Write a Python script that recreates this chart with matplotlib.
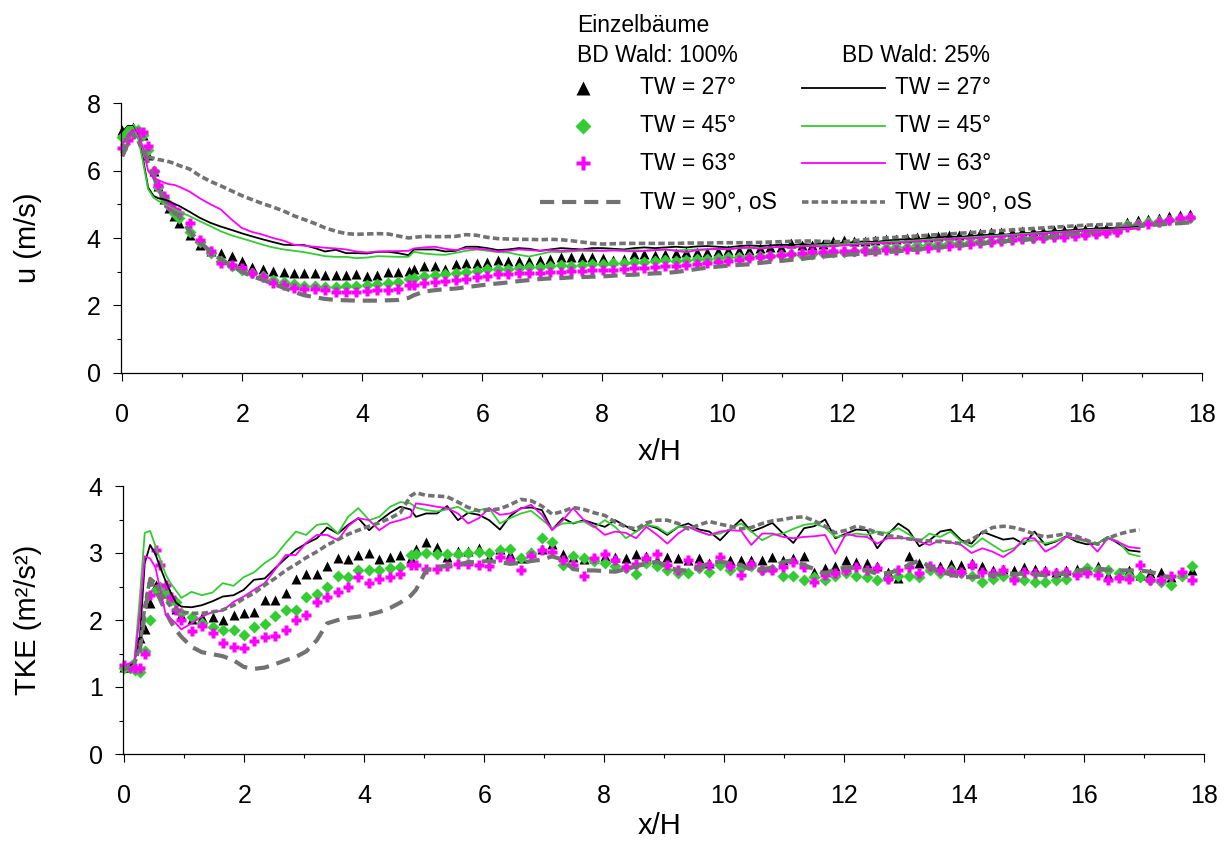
import numpy as np
import matplotlib
matplotlib.use('Agg')
import matplotlib.pyplot as plt
from matplotlib.lines import Line2D
from matplotlib.ticker import MultipleLocator

plt.rcParams['font.family'] = ['Liberation Sans', 'DejaVu Sans']

# ---------------- data ----------------
X = [0.00, 0.09, 0.17, 0.26, 0.34, 0.43, 0.52, 0.60, 0.69, 0.77, 0.86, 0.95,
     1.12, 1.29, 1.47, 1.64, 1.82, 1.99, 2.16, 2.34, 2.51, 2.69, 2.86, 3.03, 3.21, 3.38, 3.56, 3.73, 3.90, 4.08, 4.25, 4.43, 4.60, 4.77,
     4.86, 5.03, 5.21, 5.38, 5.56, 5.73, 5.91, 6.08, 6.26, 6.43,
     6.61, 6.78, 6.96, 7.13, 7.31, 7.48, 7.66, 7.83, 8.01, 8.18,
     8.36, 8.53, 8.70, 8.88, 9.05, 9.23, 9.40, 9.58, 9.75, 9.93,
     10.10, 10.28, 10.45, 10.63, 10.80, 10.98, 11.15, 11.33, 11.50, 11.68,
     11.85, 12.03, 12.20, 12.38, 12.55, 12.72, 12.90, 13.07, 13.25, 13.42,
     13.60, 13.77, 13.95, 14.12, 14.30, 14.47, 14.65, 14.82, 15.00, 15.17,
     15.35, 15.52, 15.70, 15.87, 16.04, 16.22, 16.39, 16.57, 16.74, 16.92,
     17.09, 17.27, 17.44, 17.62, 17.79]

# u (m/s), BD Wald 100 % (markers + long dash)
u_tw27_100 = [7.20, 7.25, 7.30, 7.25, 7.05, 6.45, 6.00, 5.55, 5.15, 4.88, 4.66, 4.44,
              4.09, 3.80, 3.60, 3.56, 3.48, 3.33, 3.15, 3.08, 3.02, 2.98, 2.97, 2.97, 2.96, 2.90, 2.91, 2.89, 2.92, 2.88, 2.91, 2.98, 2.99, 3.02,
              3.09, 3.17, 3.17, 3.08, 3.24, 3.27, 3.27, 3.28, 3.36, 3.33,
              3.33, 3.33, 3.34, 3.37, 3.43, 3.45, 3.43, 3.43, 3.40, 3.36,
              3.37, 3.52, 3.53, 3.51, 3.53, 3.56, 3.57, 3.59, 3.59, 3.61,
              3.64, 3.65, 3.65, 3.69, 3.74, 3.74, 3.86, 3.78, 3.78, 3.82,
              3.90, 3.93, 3.90, 3.92, 3.95, 3.97, 3.98, 4.00, 4.02, 4.03,
              4.06, 4.08, 4.10, 4.12, 4.14, 4.17, 4.18, 4.19, 4.21, 4.22,
              4.22, 4.24, 4.25, 4.27, 4.28, 4.29, 4.31, 4.33, 4.47, 4.53,
              4.57, 4.60, 4.64, 4.67, 4.71]
u_tw45_100 = [7.00, 7.15, 7.25, 7.20, 7.05, 6.60, 6.00, 5.50, 5.20, 4.95, 4.75, 4.58,
              4.19, 3.89, 3.55, 3.32, 3.16, 3.06, 2.96, 2.86, 2.76, 2.70, 2.62, 2.58, 2.56, 2.55, 2.55, 2.56, 2.57, 2.60, 2.63, 2.66, 2.68, 2.78,
              2.82, 2.86, 2.90, 2.92, 2.96, 2.99, 3.02, 3.07, 3.09, 3.08,
              3.12, 3.15, 3.14, 3.17, 3.19, 3.18, 3.21, 3.22, 3.24, 3.26,
              3.27, 3.29, 3.30, 3.31, 3.34, 3.33, 3.35, 3.38, 3.39, 3.40,
              3.43, 3.44, 3.45, 3.48, 3.48, 3.50, 3.52, 3.51, 3.53, 3.56,
              3.57, 3.59, 3.62, 3.64, 3.66, 3.70, 3.72, 3.74, 3.78, 3.79,
              3.82, 3.85, 3.86, 3.88, 3.91, 3.92, 3.95, 3.98, 3.99, 4.01,
              4.04, 4.05, 4.08, 4.11, 4.12, 4.15, 4.18, 4.20, 4.38, 4.43,
              4.47, 4.50, 4.53, 4.56, 4.60]
u_tw63_100 = [6.67, 6.92, 7.08, 7.14, 7.16, 6.72, 6.00, 5.56, 5.26, 4.98, 4.85, 4.74,
              4.44, 3.95, 3.60, 3.25, 3.20, 3.10, 2.95, 2.85, 2.65, 2.60, 2.53, 2.50, 2.48, 2.45, 2.41, 2.40, 2.41, 2.43, 2.45, 2.47, 2.50, 2.60,
              2.60, 2.65, 2.68, 2.72, 2.76, 2.79, 2.83, 2.87, 2.92, 2.94,
              2.95, 2.96, 2.97, 2.98, 3.00, 3.01, 3.03, 3.04, 3.05, 3.06,
              3.08, 3.10, 3.12, 3.14, 3.16, 3.18, 3.21, 3.24, 3.27, 3.30,
              3.33, 3.36, 3.40, 3.43, 3.46, 3.49, 3.52, 3.55, 3.57, 3.59,
              3.61, 3.62, 3.62, 3.61, 3.62, 3.63, 3.64, 3.66, 3.68, 3.71,
              3.74, 3.77, 3.80, 3.83, 3.85, 3.88, 3.91, 3.94, 3.97, 3.99,
              4.00, 4.02, 4.04, 4.06, 4.08, 4.11, 4.14, 4.17, 4.33, 4.38,
              4.43, 4.48, 4.53, 4.58, 4.62]
u_tw90_100 = [6.42, 6.80, 7.03, 7.05, 6.80, 6.20, 5.85, 5.45, 5.20, 4.95, 4.80, 4.64,
              4.20, 3.88, 3.60, 3.36, 3.18, 3.00, 2.86, 2.76, 2.64, 2.52, 2.40, 2.30, 2.24, 2.19, 2.16, 2.15, 2.14, 2.14, 2.14, 2.15, 2.16, 2.22,
              2.30, 2.41, 2.45, 2.48, 2.50, 2.54, 2.58, 2.62, 2.65, 2.68,
              2.72, 2.75, 2.78, 2.80, 2.81, 2.83, 2.84, 2.85, 2.86, 2.88,
              2.90, 2.91, 2.93, 2.95, 2.96, 2.99, 3.03, 3.08, 3.12, 3.15,
              3.18, 3.20, 3.22, 3.26, 3.29, 3.32, 3.35, 3.38, 3.42, 3.45,
              3.48, 3.50, 3.52, 3.54, 3.56, 3.58, 3.60, 3.63, 3.66, 3.70,
              3.72, 3.75, 3.78, 3.80, 3.83, 3.86, 3.89, 3.92, 3.94, 3.97,
              4.00, 4.04, 4.08, 4.12, 4.16, 4.20, 4.24, 4.28, 4.31, 4.35,
              4.38, 4.40, 4.42, 4.44, 4.46]

# u (m/s), BD Wald 25 % (lines, end at x/H ~ 16.9)
u_tw27_25 = [7.15, 7.33, 7.33, 7.05, 6.40, 5.50, 5.25, 5.18, 5.15, 5.10, 5.02, 4.95,
             4.78, 4.60, 4.45, 4.34, 4.24, 4.14, 4.05, 3.96, 3.88, 3.80, 3.79, 3.79, 3.70, 3.60, 3.65, 3.55, 3.55, 3.54, 3.59, 3.59, 3.55, 3.49,
             3.66, 3.66, 3.66, 3.60, 3.62, 3.74, 3.74, 3.70, 3.64, 3.66,
             3.70, 3.68, 3.62, 3.66, 3.70, 3.68, 3.66, 3.70, 3.70, 3.68,
             3.66, 3.70, 3.72, 3.70, 3.72, 3.74, 3.72, 3.75, 3.76, 3.74,
             3.72, 3.76, 3.78, 3.76, 3.78, 3.80, 3.79, 3.82, 3.80, 3.84,
             3.86, 3.85, 3.88, 3.90, 3.88, 3.92, 3.95, 3.97, 3.96, 4.00,
             4.02, 4.04, 4.03, 4.06, 4.08, 4.10, 4.09, 4.12, 4.14, 4.16,
             4.18, 4.20, 4.22, 4.24, 4.26, 4.28, 4.30, 4.28, 4.30, 4.33]
u_tw45_25 = [7.10, 7.30, 7.30, 7.00, 6.30, 5.45, 5.20, 5.10, 5.02, 4.95, 4.86, 4.78,
             4.65, 4.50, 4.35, 4.20, 4.08, 3.99, 3.90, 3.80, 3.72, 3.66, 3.62, 3.58, 3.52, 3.46, 3.44, 3.44, 3.40, 3.42, 3.46, 3.45, 3.44, 3.44,
             3.59, 3.54, 3.51, 3.50, 3.56, 3.62, 3.66, 3.62, 3.58, 3.57,
             3.50, 3.45, 3.52, 3.59, 3.58, 3.60, 3.62, 3.61, 3.63, 3.64,
             3.63, 3.64, 3.62, 3.64, 3.66, 3.63, 3.65, 3.66, 3.67, 3.68,
             3.68, 3.70, 3.69, 3.70, 3.72, 3.74, 3.73, 3.76, 3.78, 3.79,
             3.80, 3.82, 3.83, 3.85, 3.86, 3.88, 3.90, 3.91, 3.93, 3.95,
             3.97, 3.98, 4.00, 4.02, 4.04, 4.06, 4.08, 4.10, 4.12, 4.14,
             4.15, 4.17, 4.19, 4.21, 4.23, 4.25, 4.24, 4.26, 4.28, 4.30]
u_tw63_25 = [6.75, 7.05, 7.20, 7.15, 6.70, 6.00, 5.78, 5.72, 5.65, 5.60, 5.58, 5.52,
             5.38, 5.18, 5.00, 4.85, 4.55, 4.30, 4.18, 4.10, 4.00, 3.92, 3.80, 3.77, 3.74, 3.71, 3.69, 3.66, 3.60, 3.57, 3.60, 3.61, 3.61, 3.62,
             3.69, 3.72, 3.74, 3.68, 3.64, 3.69, 3.68, 3.66, 3.60, 3.62,
             3.66, 3.64, 3.62, 3.64, 3.62, 3.63, 3.65, 3.64, 3.62, 3.63,
             3.62, 3.60, 3.62, 3.64, 3.66, 3.62, 3.58, 3.64, 3.66, 3.68,
             3.66, 3.70, 3.72, 3.68, 3.72, 3.74, 3.72, 3.75, 3.76, 3.74,
             3.76, 3.78, 3.80, 3.82, 3.84, 3.85, 3.86, 3.88, 3.90, 3.92,
             3.94, 3.96, 3.98, 3.99, 4.01, 4.03, 4.05, 4.07, 4.09, 4.11,
             4.13, 4.15, 4.17, 4.19, 4.21, 4.23, 4.22, 4.24, 4.26, 4.28]
u_tw90_25 = [6.60, 6.95, 7.10, 6.90, 6.55, 6.40, 6.37, 6.33, 6.30, 6.27, 6.22, 6.15,
             6.05, 5.85, 5.68, 5.55, 5.40, 5.26, 5.14, 5.02, 4.92, 4.80, 4.66, 4.55, 4.43, 4.30, 4.20, 4.13, 4.11, 4.12, 4.13, 4.12, 4.06, 4.00,
             4.02, 4.05, 4.04, 4.04, 4.05, 4.10, 4.08, 4.02, 3.98, 3.97,
             3.96, 3.96, 3.95, 3.96, 3.95, 3.92, 3.88, 3.84, 3.82, 3.83,
             3.84, 3.84, 3.84, 3.84, 3.84, 3.84, 3.85, 3.85, 3.85, 3.86,
             3.86, 3.86, 3.86, 3.87, 3.88, 3.89, 3.90, 3.91, 3.91, 3.90,
             3.89, 3.89, 3.92, 3.95, 3.98, 4.00, 4.02, 4.04, 4.06, 4.08,
             4.10, 4.12, 4.14, 4.16, 4.18, 4.20, 4.22, 4.24, 4.26, 4.28,
             4.30, 4.32, 4.34, 4.36, 4.38, 4.39, 4.40, 4.41, 4.42, 4.43]

# TKE (m2/s2), BD Wald 100 %
k_tw27_100 = [1.30, 1.30, 1.30, 1.73, 1.87, 2.25, 2.52, 2.47, 2.40, 2.32, 2.17, 2.07,
              2.02, 2.04, 2.05, 2.00, 2.07, 2.11, 2.12, 2.30, 2.30, 2.40, 2.61, 2.69, 2.68, 2.80, 2.92, 2.91, 2.97, 3.00, 2.91, 2.94, 2.97, 2.92,
              3.06, 3.17, 3.09, 2.94, 3.03, 3.03, 3.08, 2.94, 3.06, 2.98,
              2.92, 3.02, 3.06, 3.14, 2.99, 2.94, 2.91, 2.93, 2.95, 2.94,
              2.92, 2.99, 2.95, 2.90, 2.94, 2.92, 2.89, 2.92, 2.85, 2.89,
              2.89, 2.89, 2.89, 2.89, 2.94, 2.90, 2.92, 2.96, 2.72, 2.77,
              2.80, 2.90, 2.86, 2.85, 2.80, 2.71, 2.62, 2.95, 2.85, 2.79,
              2.80, 2.84, 2.82, 2.85, 2.80, 2.75, 2.76, 2.75, 2.79, 2.76,
              2.75, 2.72, 2.74, 2.76, 2.78, 2.80, 2.67, 2.70, 2.74, 2.67,
              2.70, 2.72, 2.64, 2.70, 2.74]
k_tw45_100 = [1.28, 1.28, 1.25, 1.23, 1.53, 2.00, 2.45, 2.50, 2.40, 2.30, 2.27, 2.10,
              2.05, 1.95, 1.90, 1.85, 1.85, 1.78, 1.89, 1.94, 2.06, 2.15, 2.15, 2.35, 2.39, 2.49, 2.65, 2.64, 2.75, 2.75, 2.75, 2.78, 2.79, 2.97,
              2.98, 3.00, 2.99, 2.99, 2.99, 3.00, 3.02, 3.00, 3.05, 3.06,
              2.92, 3.00, 3.22, 3.17, 2.82, 2.95, 2.92, 2.88, 2.85, 2.80,
              2.77, 2.69, 2.85, 2.80, 2.75, 2.70, 2.70, 2.77, 2.72, 2.82,
              2.75, 2.78, 2.80, 2.74, 2.76, 2.66, 2.66, 2.60, 2.64, 2.60,
              2.66, 2.70, 2.66, 2.64, 2.60, 2.62, 2.66, 2.66, 2.64, 2.74,
              2.70, 2.75, 2.70, 2.66, 2.56, 2.61, 2.66, 2.62, 2.60, 2.56,
              2.56, 2.60, 2.61, 2.70, 2.77, 2.75, 2.75, 2.70, 2.66, 2.64,
              2.60, 2.56, 2.52, 2.65, 2.80]
k_tw63_100 = [1.33, 1.30, 1.28, 1.28, 1.50, 2.37, 3.04, 2.82, 2.52, 2.35, 2.15, 2.00,
              1.84, 1.91, 1.81, 1.66, 1.60, 1.58, 1.68, 1.75, 1.76, 1.85, 2.00, 2.07, 2.27, 2.34, 2.42, 2.49, 2.64, 2.55, 2.61, 2.64, 2.69, 2.82,
              2.82, 2.76, 2.76, 2.81, 2.84, 2.84, 2.82, 2.80, 2.94, 2.89,
              2.74, 2.95, 3.04, 3.02, 2.90, 2.82, 2.66, 2.92, 2.99, 2.89,
              2.79, 2.84, 2.92, 2.99, 2.82, 2.74, 2.89, 2.80, 2.82, 2.94,
              2.80, 2.67, 2.84, 2.74, 2.74, 2.79, 2.87, 2.79, 2.56, 2.67,
              2.70, 2.74, 2.79, 2.74, 2.77, 2.61, 2.74, 2.79, 2.70, 2.80,
              2.74, 2.72, 2.72, 2.82, 2.72, 2.70, 2.74, 2.59, 2.72, 2.70,
              2.72, 2.70, 2.72, 2.67, 2.70, 2.67, 2.60, 2.62, 2.61, 2.82,
              2.60, 2.59, 2.65, 2.71, 2.60]
k_tw90_100 = [1.30, 1.33, 1.38, 1.55, 2.10, 2.60, 2.45, 2.30, 2.12, 1.98, 1.85, 1.75,
              1.60, 1.52, 1.49, 1.46, 1.40, 1.30, 1.27, 1.29, 1.34, 1.40, 1.45, 1.53, 1.70, 1.95, 2.00, 2.03, 2.05, 2.08, 2.12, 2.18, 2.26, 2.36,
              2.45, 2.74, 2.79, 2.81, 2.83, 2.86, 2.87, 2.88, 2.86, 2.84,
              2.85, 2.88, 2.90, 2.95, 2.90, 2.76, 2.74, 2.74, 2.73, 2.72,
              2.76, 2.80, 2.84, 2.87, 2.80, 2.74, 2.74, 2.78, 2.85, 2.87,
              2.85, 2.82, 2.75, 2.76, 2.78, 2.87, 2.89, 2.82, 2.76, 2.69,
              2.76, 2.78, 2.78, 2.74, 2.69, 2.70, 2.74, 2.82, 2.89, 2.80,
              2.72, 2.68, 2.64, 2.64, 2.65, 2.67, 2.69, 2.69, 2.69, 2.68,
              2.67, 2.67, 2.70, 2.73, 2.76, 2.77, 2.75, 2.74, 2.74, 2.74,
              2.72, 2.68, 2.62]

# TKE (m2/s2), BD Wald 25 %
k_tw27_25 = [1.28, 1.32, 1.38, 1.75, 2.85, 3.12, 2.98, 2.78, 2.58, 2.42, 2.26, 2.20,
             2.19, 2.22, 2.28, 2.35, 2.37, 2.45, 2.60, 2.62, 2.77, 2.92, 3.05, 3.14, 3.22, 3.38, 3.29, 3.42, 3.52, 3.34, 3.48, 3.60, 3.69, 3.65,
             3.54, 3.59, 3.59, 3.70, 3.49, 3.60, 3.57, 3.49, 3.35, 3.55,
             3.67, 3.68, 3.64, 3.35, 3.52, 3.44, 3.49, 3.44, 3.39, 3.49,
             3.40, 3.32, 3.42, 3.37, 3.27, 3.39, 3.44, 3.35, 3.32, 3.19,
             3.35, 3.50, 3.32, 3.38, 3.45, 3.29, 3.15, 3.37, 3.40, 3.50,
             3.22, 3.29, 3.35, 3.34, 3.07, 3.27, 3.44, 3.34, 3.10, 3.19,
             3.32, 3.35, 3.19, 3.14, 3.32, 3.26, 3.20, 3.22, 3.13, 3.32,
             3.12, 3.17, 3.25, 3.17, 3.13, 3.14, 3.24, 3.14, 3.04, 3.02]
k_tw45_25 = [1.28, 1.35, 1.42, 2.35, 3.30, 3.33, 3.10, 2.90, 2.68, 2.55, 2.44, 2.33,
             2.42, 2.37, 2.41, 2.55, 2.51, 2.64, 2.71, 2.85, 2.95, 3.15, 3.32, 3.27, 3.42, 3.44, 3.29, 3.54, 3.67, 3.49, 3.54, 3.69, 3.76, 3.74,
             3.68, 3.64, 3.62, 3.65, 3.69, 3.60, 3.64, 3.67, 3.44, 3.52,
             3.59, 3.63, 3.50, 3.37, 3.44, 3.45, 3.47, 3.38, 3.49, 3.39,
             3.22, 3.32, 3.42, 3.39, 3.29, 3.39, 3.39, 3.32, 3.27, 3.29,
             3.36, 3.44, 3.32, 3.19, 3.27, 3.29, 3.36, 3.42, 3.44, 3.38,
             3.24, 3.26, 3.29, 3.27, 3.32, 3.30, 3.37, 3.28, 3.17, 3.29,
             3.24, 3.32, 3.17, 3.09, 3.22, 3.12, 3.02, 3.07, 3.17, 3.19,
             3.14, 3.18, 3.24, 3.20, 3.17, 3.14, 3.24, 3.17, 2.99, 2.95]
k_tw63_25 = [1.32, 1.35, 1.38, 2.10, 2.95, 2.92, 2.78, 2.45, 2.08, 2.02, 1.95, 1.86,
             1.95, 2.05, 2.12, 2.14, 2.27, 2.35, 2.45, 2.55, 2.75, 2.97, 2.97, 3.15, 3.27, 3.27, 3.19, 3.40, 3.52, 3.49, 3.34, 3.45, 3.49, 3.54,
             3.74, 3.72, 3.69, 3.67, 3.59, 3.44, 3.52, 3.67, 3.57, 3.59,
             3.66, 3.72, 3.57, 3.34, 3.49, 3.67, 3.49, 3.40, 3.27, 3.32,
             3.30, 3.22, 3.39, 3.27, 3.14, 3.29, 3.39, 3.32, 3.27, 3.32,
             3.34, 3.33, 3.12, 3.29, 3.29, 3.24, 3.22, 3.24, 3.25, 3.27,
             2.99, 3.29, 3.25, 3.24, 3.14, 3.22, 3.22, 3.22, 3.17, 3.12,
             3.19, 3.16, 3.12, 3.00, 3.07, 3.02, 2.94, 3.04, 3.22, 3.22,
             3.02, 3.10, 3.24, 3.22, 3.19, 3.02, 3.22, 3.16, 3.09, 3.07]
k_tw90_25 = [1.28, 1.30, 1.35, 1.60, 2.20, 2.62, 2.55, 2.40, 2.30, 2.20, 2.15, 2.12,
             2.10, 2.10, 2.12, 2.15, 2.22, 2.32, 2.40, 2.52, 2.62, 2.74, 2.83, 2.93, 3.02, 3.12, 3.20, 3.28, 3.34, 3.40, 3.45, 3.52, 3.60, 3.85,
             3.90, 3.86, 3.85, 3.84, 3.76, 3.68, 3.63, 3.64, 3.66, 3.72,
             3.80, 3.78, 3.70, 3.58, 3.62, 3.68, 3.65, 3.60, 3.56, 3.46,
             3.39, 3.36, 3.45, 3.49, 3.49, 3.44, 3.36, 3.42, 3.47, 3.43,
             3.40, 3.36, 3.38, 3.44, 3.48, 3.50, 3.53, 3.54, 3.48, 3.40,
             3.30, 3.34, 3.40, 3.36, 3.30, 3.26, 3.24, 3.21, 3.19, 3.18,
             3.17, 3.16, 3.14, 3.20, 3.30, 3.38, 3.40, 3.38, 3.34, 3.28,
             3.24, 3.26, 3.29, 3.25, 3.19, 3.13, 3.22, 3.28, 3.32, 3.35]

LEG_HEAD = ['Einzelbäume', 'BD Wald: 100%', 'BD Wald: 25%']
LEG_LABELS = ['TW = 27°', 'TW = 45°', 'TW = 63°', 'TW = 90°, oS']

X = np.array(X)

# ---------------- styles ----------------
BLACK = '#000000'
GREEN = '#33CC33'
MAG = '#FF00FF'
GREY = '#727272'

W, H = 1227, 841
fig = plt.figure(figsize=(W / 100, H / 100), dpi=100)


def fx(px):
    return px / W


def fy(py):
    return 1 - py / H


ax1 = fig.add_axes([fx(120.7), fy(372.7), (1202.3 - 120.7) / W, (372.7 - 103.3) / H])
ax2 = fig.add_axes([fx(122.7), fy(754.0), (1204.3 - 122.7) / W, (754.0 - 486.0) / H])

MS_TRI, MS_DIA, MS_PLUS = 6.5, 5.8, 7.8
LONG_DASH = dict(color=GREY, lw=3.0, dashes=(3.4, 1.9), dash_capstyle='butt')
SHORT_DASH = dict(color=GREY, lw=2.6, dashes=(1.8, 0.9), dash_capstyle='butt')


def draw(ax, s27, s45, s63, s90, l27, l45, l63, l90):
    ax.plot(X[:len(s27)], s27, ls='none', marker='^', ms=MS_TRI, color=BLACK, mec='none', clip_on=False)
    ax.plot(X[:len(s45)], s45, ls='none', marker='D', ms=MS_DIA, color=GREEN, mec='none', clip_on=False)
    ax.plot(X[:len(s63)], s63, ls='none', marker='P', ms=MS_PLUS, color=MAG, mec='none', clip_on=False)
    ax.plot(X[:len(s90)], s90, clip_on=False, **LONG_DASH)
    ax.plot(X[:len(l27)], l27, color=BLACK, lw=1.3, clip_on=False)
    ax.plot(X[:len(l45)], l45, color=GREEN, lw=1.3, clip_on=False)
    ax.plot(X[:len(l63)], l63, color=MAG, lw=1.3, clip_on=False)
    ax.plot(X[:len(l90)], l90, clip_on=False, **SHORT_DASH)


draw(ax1, u_tw27_100, u_tw45_100, u_tw63_100, u_tw90_100,
     u_tw27_25, u_tw45_25, u_tw63_25, u_tw90_25)
draw(ax2, k_tw27_100, k_tw45_100, k_tw63_100, k_tw90_100,
     k_tw27_25, k_tw45_25, k_tw63_25, k_tw90_25)

for ax, ymax, ymaj, ymin in [(ax1, 8, 2, 1), (ax2, 4, 1, 0.5)]:
    ax.set_xlim(-0.027, 18)
    ax.set_ylim(0, ymax)
    ax.xaxis.set_major_locator(MultipleLocator(2))
    ax.xaxis.set_minor_locator(MultipleLocator(1))
    ax.yaxis.set_major_locator(MultipleLocator(ymaj))
    ax.yaxis.set_minor_locator(MultipleLocator(ymin))
    for sp in ['top', 'right']:
        ax.spines[sp].set_visible(False)
    for sp in ['left', 'bottom']:
        ax.spines[sp].set_linewidth(0.9)
    ax.tick_params(axis='both', which='major', direction='out', length=5.5, width=0.8, labelsize=18)
    ax.tick_params(axis='both', which='minor', direction='out', length=3.0, width=0.8)
    ax.tick_params(axis='x', which='major', pad=16)
    ax.tick_params(axis='y', which='major', pad=9)
    ax.patch.set_alpha(0)

fig.text(fx(660), fy(452), 'x/H', fontsize=21, ha='center', va='center')
fig.text(fx(660), fy(826), 'x/H', fontsize=21, ha='center', va='center')
fig.text(fx(28), fy(238), 'u (m/s)', fontsize=21, ha='center', va='center', rotation=90)
fig.text(fx(28), fy(620), 'TKE (m²/s²)', fontsize=21, ha='center', va='center', rotation=90)

# ---------------- legend (drawn manually, two columns) ----------------
kw = dict(fontsize=16.5, va='center', ha='left')
fig.text(fx(577), fy(25), LEG_HEAD[0], **kw)
fig.text(fx(577), fy(55), LEG_HEAD[1], **kw)
fig.text(fx(842), fy(55), LEG_HEAD[2], **kw)

rows = [88, 126, 163, 202]
col1_markers = [dict(marker='^', ms=9.5, color=BLACK), dict(marker='D', ms=8.5, color=GREEN),
                dict(marker='P', ms=10.5, color=MAG)]
for i, r in enumerate(rows):
    if i < 3:
        fig.add_artist(Line2D([fx(583)], [fy(r)], ls='none', mec='none', transform=fig.transFigure, **col1_markers[i]))
    else:
        fig.add_artist(Line2D([fx(540), fx(621)], [fy(r), fy(r)], transform=fig.transFigure, **LONG_DASH))
    fig.text(fx(640), fy(r), LEG_LABELS[i], **kw)
col2_lines = [dict(color=BLACK, lw=1.3), dict(color=GREEN, lw=1.3), dict(color=MAG, lw=1.3), SHORT_DASH]
for i, r in enumerate(rows):
    fig.add_artist(Line2D([fx(802), fx(885)], [fy(r), fy(r)], transform=fig.transFigure, **col2_lines[i]))
    fig.text(fx(895), fy(r), LEG_LABELS[i], **kw)

fig.savefig('out.png', dpi=100)
